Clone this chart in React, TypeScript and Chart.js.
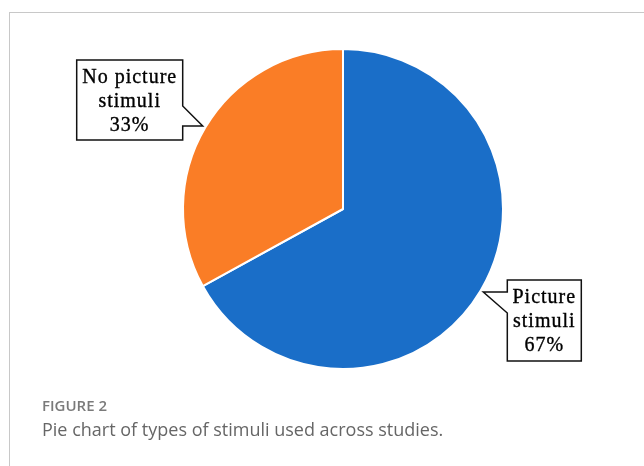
import React, { useEffect, useRef } from "react";
import { Chart, registerables } from "chart.js";

Chart.register(...registerables);

const categories = ["Picture stimuli", "No picture stimuli"];
const labelLines = [["Picture", "stimuli"], ["No picture", "stimuli"]];
const values = [67, 33];
const colors = ["#1A6EC8", "#FA7D26"];

const calloutPlugin = {
  id: "callouts",
  afterDraw(chart: any) {
    const ctx = chart.ctx;
    const meta = chart.getDatasetMeta(0);
    const total = values.reduce((a, b) => a + b, 0);
    meta.data.forEach((arc: any, i: number) => {
      const mid = (arc.startAngle + arc.endAngle) / 2;
      const dx = Math.cos(mid);
      const dy = Math.sin(mid);
      const tipX = arc.x + dx * (arc.outerRadius + 3);
      const tipY = arc.y + dy * (arc.outerRadius + 3);
      const left = dx < 0;
      let bx0: number, bx1: number, by0: number, by1: number;
      ctx.save();
      ctx.lineWidth = 1.5;
      ctx.strokeStyle = "#111";
      ctx.fillStyle = "#fff";
      ctx.beginPath();
      if (left) {
        bx1 = tipX - 20;
        bx0 = bx1 - 106;
        by0 = tipY - 66;
        by1 = tipY + 14;
        ctx.moveTo(bx0, by0);
        ctx.lineTo(bx1, by0);
        ctx.lineTo(bx1, tipY - 20);
        ctx.lineTo(tipX, tipY);
        ctx.lineTo(bx1, tipY);
        ctx.lineTo(bx1, by1);
        ctx.lineTo(bx0, by1);
        ctx.closePath();
      } else {
        bx0 = tipX + 24;
        bx1 = bx0 + 74;
        by0 = tipY - 12;
        by1 = tipY + 69;
        ctx.moveTo(bx0, by0);
        ctx.lineTo(bx1, by0);
        ctx.lineTo(bx1, by1);
        ctx.lineTo(bx0, by1);
        ctx.lineTo(bx0, tipY + 21);
        ctx.lineTo(tipX, tipY);
        ctx.lineTo(bx0, tipY);
        ctx.closePath();
      }
      ctx.fill();
      ctx.stroke();
      const lines = [...labelLines[i], Math.round((values[i] / total) * 100) + "%"];
      ctx.fillStyle = "#000";
      ctx.strokeStyle = "#000";
      ctx.lineWidth = 0.35;
      ctx.font = "20px 'Liberation Serif', 'Times New Roman', serif";
      (ctx as any).letterSpacing = "1px";
      ctx.textAlign = "center";
      ctx.textBaseline = "alphabetic";
      const cx = (bx0 + bx1) / 2;
      lines.forEach((t, j) => {
        ctx.fillText(t, cx, by0 + 23 + j * 24);
        ctx.strokeText(t, cx, by0 + 23 + j * 24);
      });
      ctx.restore();
    });
  },
};

export default function App() {
  const ref = useRef<HTMLCanvasElement | null>(null);
  useEffect(() => {
    if (!ref.current) return;
    const chart = new Chart(ref.current, {
      type: "pie",
      data: {
        labels: categories,
        datasets: [
          {
            data: values,
            backgroundColor: colors,
            borderColor: "#ffffff",
            borderWidth: 2,
          },
        ],
      },
      options: {
        responsive: false,
        animation: false,
        layout: { padding: { left: 182, right: 140, top: 48, bottom: 96 } },
        plugins: {
          legend: { display: false },
          tooltip: { enabled: false },
        },
      },
      plugins: [calloutPlugin],
    });
    return () => chart.destroy();
  }, []);

  return (
    <div style={{ position: "absolute", left: 0, top: 0, width: 644, height: 466, overflow: "hidden", background: "#fff" }}>
      <div
        style={{
          position: "absolute",
          left: 9,
          top: 12,
          width: 700,
          height: 500,
          borderTop: "1px solid #c8c8c8",
          borderLeft: "1px solid #c8c8c8",
        }}
      />
      <canvas ref={ref} width={644} height={466} style={{ position: "absolute", left: 0, top: 0, width: 644, height: 466 }} />
      <div
        style={{
          position: "absolute",
          left: 42,
          top: 395,
          fontFamily: "'Open Sans', sans-serif",
          fontWeight: 600,
          fontSize: 15,
          color: "#7a7a7a",
          whiteSpace: "nowrap",
        }}
      >
        FIGURE 2
      </div>
      <div
        style={{
          position: "absolute",
          left: 42,
          top: 417,
          fontFamily: "'Open Sans', sans-serif",
          fontSize: 18,
          color: "#666",
          whiteSpace: "nowrap",
        }}
      >
        Pie chart of types of stimuli used across studies.
      </div>
    </div>
  );
}
